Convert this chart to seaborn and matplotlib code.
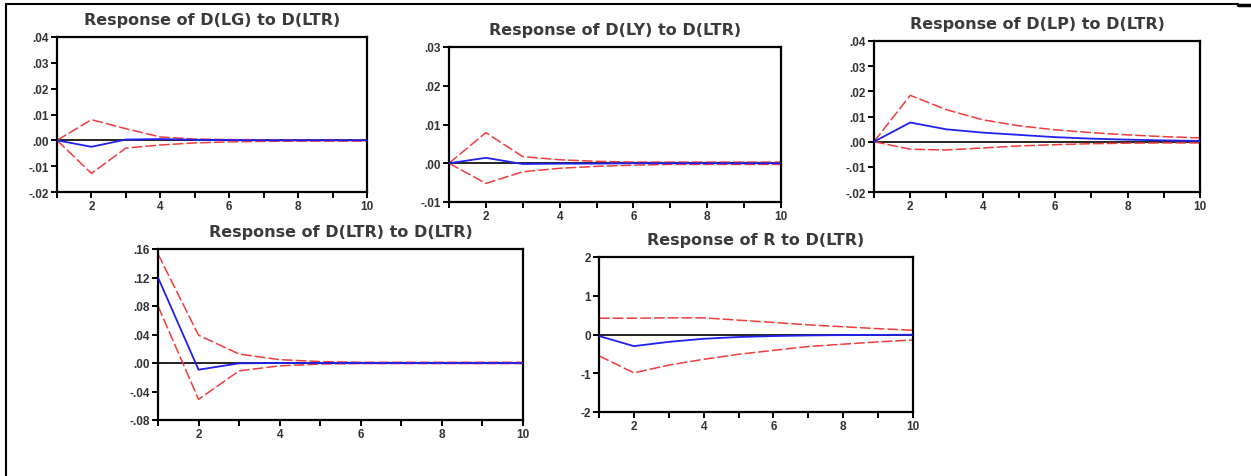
import numpy as np
import pandas as pd
import matplotlib
matplotlib.use("Agg")
import matplotlib.pyplot as plt
from matplotlib.lines import Line2D
import seaborn as sns

sns.set_style("white")
plt.rcParams['font.family'] = ['Liberation Sans', 'DejaVu Sans']

periods = [1, 2, 3, 4, 5, 6, 7, 8, 9, 10]

# Response of D(LG) to D(LTR)
lg_resp = [0.0, -0.0025, 0.0003, 0.0005, 0.0002, 0.0001, 0.0, 0.0, 0.0, 0.0]
lg_up = [0.0, 0.0080, 0.0045, 0.0013, 0.0005, 0.0003, 0.0002, 0.0001, 0.0001, 0.0001]
lg_lo = [0.0, -0.0128, -0.0030, -0.0018, -0.0010, -0.0006, -0.0004, -0.0003, -0.0003, -0.0003]

# Response of D(LY) to D(LTR)
ly_resp = [0.0, 0.0014, -0.0002, -0.0001, -0.0001, 0.0, 0.0, 0.0, 0.0, 0.0]
ly_up = [0.0, 0.0079, 0.0017, 0.0009, 0.0005, 0.0003, 0.0003, 0.0003, 0.0003, 0.0003]
ly_lo = [0.0, -0.0052, -0.0022, -0.0013, -0.0008, -0.0005, -0.0003, -0.0003, -0.0003, -0.0003]

# Response of D(LP) to D(LTR)
lp_resp = [0.0, 0.0076, 0.0049, 0.0036, 0.0027, 0.0018, 0.0012, 0.0008, 0.0005, 0.0003]
lp_up = [0.0, 0.0184, 0.0127, 0.0087, 0.0063, 0.0047, 0.0036, 0.0027, 0.0020, 0.0015]
lp_lo = [0.0, -0.0030, -0.0033, -0.0025, -0.0017, -0.0012, -0.0008, -0.0006, -0.0005, -0.0005]

# Response of D(LTR) to D(LTR)
ltr_resp = [0.120, -0.0094, -0.0005, 0.0, 0.0, 0.0, 0.0, 0.0, 0.0, 0.0]
ltr_up = [0.153, 0.039, 0.0126, 0.0047, 0.0020, 0.0010, 0.0010, 0.0010, 0.0010, 0.0010]
ltr_lo = [0.080, -0.051, -0.011, -0.004, -0.0015, -0.0008, -0.0008, -0.0008, -0.0008, -0.0008]

# Response of R to D(LTR)
r_resp = [-0.04, -0.30, -0.19, -0.11, -0.065, -0.04, -0.025, -0.015, -0.01, -0.005]
r_up = [0.42, 0.42, 0.43, 0.43, 0.37, 0.31, 0.25, 0.20, 0.15, 0.11]
r_lo = [-0.55, -0.99, -0.79, -0.64, -0.51, -0.41, -0.31, -0.25, -0.19, -0.14]

titles = ["Response of D(LG) to D(LTR)", "Response of D(LY) to D(LTR)",
          "Response of D(LP) to D(LTR)", "Response of D(LTR) to D(LTR)",
          "Response of R to D(LTR)"]
yticks_list = [
    [-0.02, -0.01, 0.0, 0.01, 0.02, 0.03, 0.04],
    [-0.01, 0.0, 0.01, 0.02, 0.03],
    [-0.02, -0.01, 0.0, 0.01, 0.02, 0.03, 0.04],
    [-0.08, -0.04, 0.0, 0.04, 0.08, 0.12, 0.16],
    [-2, -1, 0, 1, 2],
]
ylabels_list = [
    ["-.02", "-.01", ".00", ".01", ".02", ".03", ".04"],
    ["-.01", ".00", ".01", ".02", ".03"],
    ["-.02", "-.01", ".00", ".01", ".02", ".03", ".04"],
    ["-.08", "-.04", ".00", ".04", ".08", ".12", ".16"],
    ["-2", "-1", "0", "1", "2"],
]

W, H = 1251, 477
# axes boxes in pixels: left, top, right, bottom
boxes = [(57, 38, 367, 193), (449, 48, 781, 203), (874, 42, 1200, 193),
         (158, 250, 523, 421), (599, 258, 913, 413)]

series = [(lg_resp, lg_up, lg_lo), (ly_resp, ly_up, ly_lo), (lp_resp, lp_up, lp_lo),
          (ltr_resp, ltr_up, ltr_lo), (r_resp, r_up, r_lo)]

fig = plt.figure(figsize=(W / 100, H / 100), dpi=100)
fig.patch.set_facecolor("white")

red = "#f03c3c"
for i, (box, (resp, up, lo)) in enumerate(zip(boxes, series)):
    l, t, r, b = box
    ax = fig.add_axes([l / W, 1 - b / H, (r - l) / W, (b - t) / H])
    df = pd.DataFrame({"period": periods, "resp": resp, "up": up, "lo": lo})
    ax.axhline(0, color="black", lw=1.2, zorder=1)
    sns.lineplot(data=df, x="period", y="resp", ax=ax, color="#2020f0", lw=1.3, zorder=3)
    sns.lineplot(data=df, x="period", y="up", ax=ax, color=red, lw=1.1,
                 linestyle=(0, (7, 2)), zorder=2)
    sns.lineplot(data=df, x="period", y="lo", ax=ax, color=red, lw=1.1,
                 linestyle=(0, (7, 2)), zorder=2)
    yt = yticks_list[i]
    ax.set_xlim(1, 10)
    ax.set_ylim(yt[0], yt[-1])
    ax.set_xticks(periods)
    ax.set_xticklabels(["" if p % 2 else str(p) for p in periods])
    ax.set_yticks(yt)
    ax.set_yticklabels(ylabels_list[i])
    ax.set_xlabel("")
    ax.set_ylabel("")
    for s in ax.spines.values():
        s.set_visible(True)
        s.set_color("black")
        s.set_linewidth(1.6)
    ax.tick_params(axis="both", direction="out", length=4, width=1.4, color="black",
                   labelsize=8.5, pad=2, bottom=True, left=True)
    for lab in ax.get_xticklabels() + ax.get_yticklabels():
        lab.set_fontweight("bold")
        lab.set_color("#333333")
    ax.set_title(titles[i], fontsize=11.5, fontweight="bold", color="#3a3a3a", pad=9,
                 family=["DejaVu Sans"])

# outer frame lines (left and top)
fig.add_artist(Line2D([6 / W, 6 / W], [0, 1 - 5 / H], color="black", lw=1.5,
                      transform=fig.transFigure))
fig.add_artist(Line2D([6 / W, 1238 / W], [1 - 5 / H, 1 - 5 / H], color="black", lw=1.5,
                      transform=fig.transFigure))
fig.add_artist(Line2D([1238 / W, 1 - 0.5 / W], [1 - 6 / H, 1 - 6 / H], color="black", lw=2.5,
                      transform=fig.transFigure))

fig.savefig("out.png", dpi=100, facecolor="white")
